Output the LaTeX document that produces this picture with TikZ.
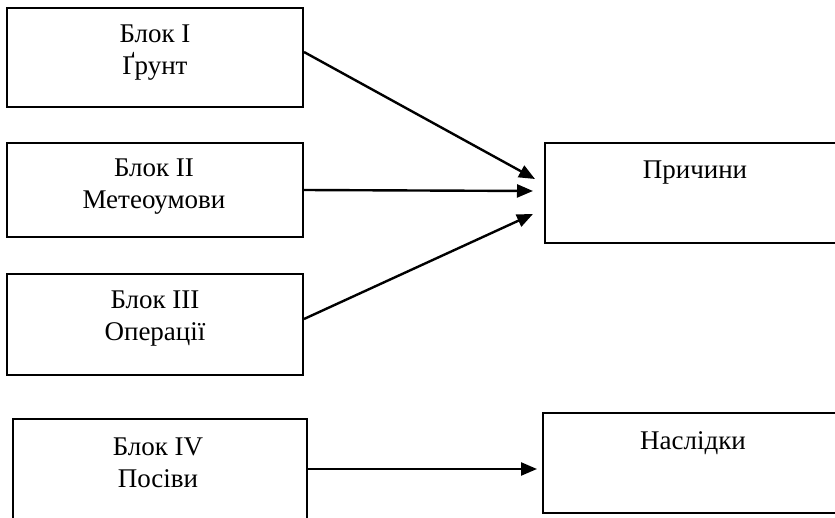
\documentclass[tikz,border=0pt]{standalone}
\usepackage{fontspec}
\setmainfont{Liberation Serif}
\usetikzlibrary{arrows.meta}
\begin{document}
\begin{tikzpicture}[x=1pt,y=-1pt,
  blk/.style={draw,line width=2.4pt,anchor=north west,inner sep=0pt,outer sep=0pt,minimum width=#1},
  lbl/.style={anchor=base,inner sep=0pt,font=\fontsize{27}{30}\selectfont},
  arr/.style={line width=2.4pt,-{Triangle[length=16pt,width=13pt]}}]
\useasboundingbox (0,0) rectangle (835,518);
\clip (0,0) rectangle (835,518);
\node[blk=296pt,minimum height=99pt] (b1) at (7,8) {};
\node[blk=296pt,minimum height=94pt] (b2) at (7,143) {};
\node[blk=296pt,minimum height=101pt] (b3) at (7,274) {};
\node[blk=294pt,minimum height=120pt] (b4) at (13,419) {};
\node[blk=310pt,minimum height=100pt] (pr) at (545,143) {};
\node[blk=310pt,minimum height=100pt] (nas) at (543,413) {};
\node[lbl] (t1a) at (155,43) {Блок I};
\node[lbl] (t1b) at (155,75) {Ґрунт};
\node[lbl] (t2a) at (154,177) {Блок II};
\node[lbl] (t2b) at (154,209) {Метеоумови};
\node[lbl] (t3a) at (155,309) {Блок III};
\node[lbl] (t3b) at (155,341) {Операції};
\node[lbl] (t4a) at (158,455) {Блок IV};
\node[lbl] (t4b) at (158,487) {Посіви};
\node[lbl] (tpr) at (695,179) {Причини};
\node[lbl] (tnas) at (693,449) {Наслідки};
\coordinate (s1) at (304,52);
\coordinate (s3) at (304,319);
\coordinate (s4) at (306,469);
\coordinate (e1) at (535,179);
\coordinate (e2) at (533,191);
\coordinate (e3) at (533,214);
\coordinate (e4) at (537,469);
\draw[arr] (s1) -- (e1);
\draw[arr] (b2.east) -- (e2);
\draw[arr] (s3) -- (e3);
\draw[arr] (s4) -- (e4);
\end{tikzpicture}
\end{document}
